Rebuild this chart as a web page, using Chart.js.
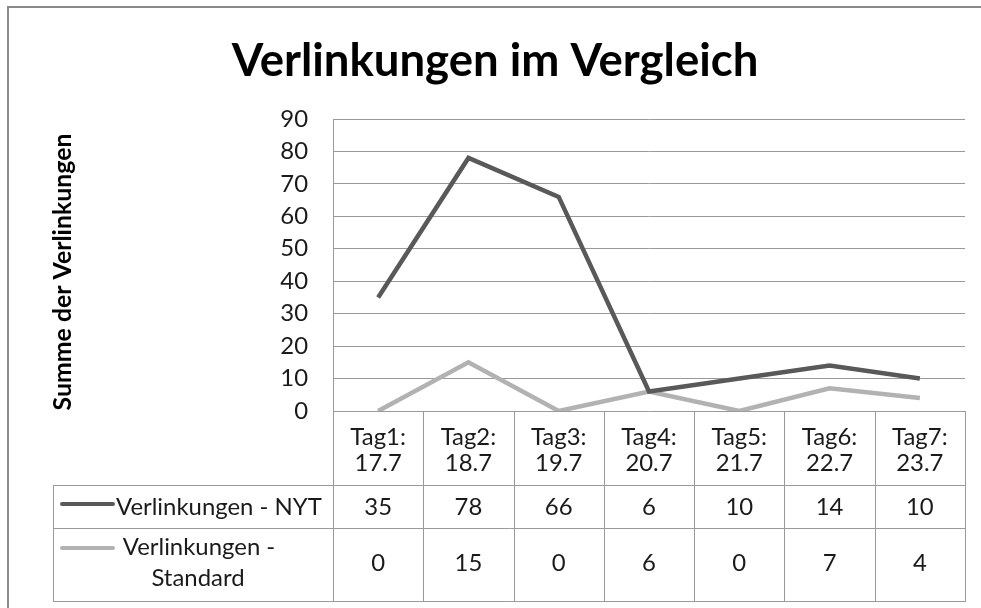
<!DOCTYPE html>
<html><head><meta charset="utf-8">
<script src="https://cdn.jsdelivr.net/npm/chart.js@4.4.0/dist/chart.umd.min.js"></script>
<style>html,body{margin:0;padding:0;background:#fff;}#wrap{width:981px;height:608px;}</style>
</head><body><div id="wrap"><canvas id="c" width="981" height="608"></canvas></div>
<script>
const chartTitle = 'Verlinkungen im Vergleich';
const yAxisTitle = 'Summe der Verlinkungen';
const dayLabels = ['Tag1:', 'Tag2:', 'Tag3:', 'Tag4:', 'Tag5:', 'Tag6:', 'Tag7:'];
const dateLabels = ['17.7', '18.7', '19.7', '20.7', '21.7', '22.7', '23.7'];
const seriesNames = ['Verlinkungen - NYT', 'Verlinkungen - Standard'];
const nytValues = [35, 78, 66, 6, 10, 14, 10];
const standardValues = [0, 15, 0, 6, 0, 7, 4];
const yMin = 0, yMax = 90, yStep = 10;

const FONT = 'Lato, "Open Sans", "DejaVu Sans", sans-serif';
const GRID = '#9a9a9a';
const COLORS = ['#595959', '#b2b2b2'];

const ctx0 = document.getElementById('c').getContext('2d');
function fitSize(text, weight, target) {
  ctx0.font = weight + ' 100px ' + FONT;
  return 100 * target / ctx0.measureText(text).width;
}
const titleSize = fitSize(chartTitle, 'bold', 527);
const yTitleSize = fitSize(yAxisTitle, 'bold', 277);
const bodySize = fitSize(seriesNames[0], 'normal', 206);

const tablePlugin = {
  id: 'tablePlugin',
  afterDraw(chart) {
    const c = chart.ctx;
    const xs = chart.scales.x;
    const area = chart.chartArea;
    const n = dayLabels.length;
    const half = (xs.getPixelForValue(1) - xs.getPixelForValue(0)) / 2;
    const bounds = [];
    for (let i = 0; i <= n; i++) bounds.push(i < n ? xs.getPixelForValue(i) - half : xs.getPixelForValue(n - 1) + half);
    const tLeft = 53, yHead = area.bottom, yRow1 = 485, yRow2 = 528, yBot = 601;
    c.save();
    // frame
    c.strokeStyle = '#8a8a8a'; c.lineWidth = 2;
    c.beginPath(); c.moveTo(8, 608); c.lineTo(8, 7); c.lineTo(981, 7); c.stroke();
    // table lines
    c.strokeStyle = GRID; c.lineWidth = 1;
    c.beginPath();
    bounds.forEach(b => { const x = Math.round(b) + 0.5; c.moveTo(x, yHead); c.lineTo(x, yBot); });
    [yRow1, yRow2, yBot].forEach(y => { c.moveTo(tLeft, y + 0.5); c.lineTo(Math.round(bounds[n]) + 1, y + 0.5); });
    c.moveTo(tLeft + 0.5, yRow1); c.lineTo(tLeft + 0.5, yBot);
    c.stroke();
    // header text
    c.fillStyle = '#1a1a1a';
    c.font = 'normal ' + bodySize + 'px ' + FONT;
    c.textAlign = 'center'; c.textBaseline = 'middle';
    for (let i = 0; i < n; i++) {
      const cx = (bounds[i] + bounds[i + 1]) / 2;
      c.fillText(dayLabels[i], cx, 437);
      c.fillText(dateLabels[i], cx, 463);
      c.fillText(String(nytValues[i]), cx, 507);
      c.fillText(String(standardValues[i]), cx, 563);
    }
    // legend keys
    c.lineWidth = 4; c.lineCap = 'round';
    [[504, 0], [548, 1]].forEach(([y, k]) => {
      c.strokeStyle = COLORS[k];
      c.beginPath(); c.moveTo(62, y); c.lineTo(113, y); c.stroke();
    });
    c.textAlign = 'left';
    c.fillText(seriesNames[0], 116, 507);
    const parts = seriesNames[1].split(' ');
    c.textAlign = 'center';
    c.fillText(parts.slice(0, 2).join(' '), 199, 547);
    c.fillText(parts.slice(2).join(' '), 198, 578);
    // title
    c.font = 'bold ' + titleSize + 'px ' + FONT;
    c.textBaseline = 'alphabetic';
    c.fillStyle = '#000';
    c.fillText(chartTitle, 495, 76);
    // y title
    c.translate(63, 272);
    c.rotate(-Math.PI / 2);
    c.font = 'bold ' + yTitleSize + 'px ' + FONT;
    c.textBaseline = 'middle';
    c.fillText(yAxisTitle, 0, 0);
    c.restore();
  }
};

new Chart(document.getElementById('c'), {
  type: 'line',
  data: {
    labels: dayLabels.map((d, i) => d + ' ' + dateLabels[i]),
    datasets: [
      { label: seriesNames[0], data: nytValues, borderColor: COLORS[0], borderWidth: 4.5, pointRadius: 0, tension: 0, borderJoinStyle: 'miter' },
      { label: seriesNames[1], data: standardValues, borderColor: COLORS[1], borderWidth: 4.5, pointRadius: 0, tension: 0, borderJoinStyle: 'miter' }
    ]
  },
  options: {
    responsive: false,
    animation: false,
    events: [],
    layout: { padding: { top: 119, right: 16, bottom: 197, left: 0 } },
    plugins: { legend: { display: false }, title: { display: false }, tooltip: { enabled: false } },
    scales: {
      x: {
        offset: true,
        grid: { display: false, drawTicks: false },
        ticks: { display: false },
        border: { display: false },
        afterFit: s => { s.height = 0; }
      },
      y: {
        min: yMin, max: yMax,
        ticks: { stepSize: yStep, padding: 25, color: '#1a1a1a', font: { family: FONT, size: bodySize } },
        grid: { color: GRID, lineWidth: 1, drawTicks: false },
        border: { display: true, color: GRID, width: 1 },
        afterFit: s => { s.width = 333; }
      }
    }
  },
  plugins: [tablePlugin]
});
</script>
</body></html>
